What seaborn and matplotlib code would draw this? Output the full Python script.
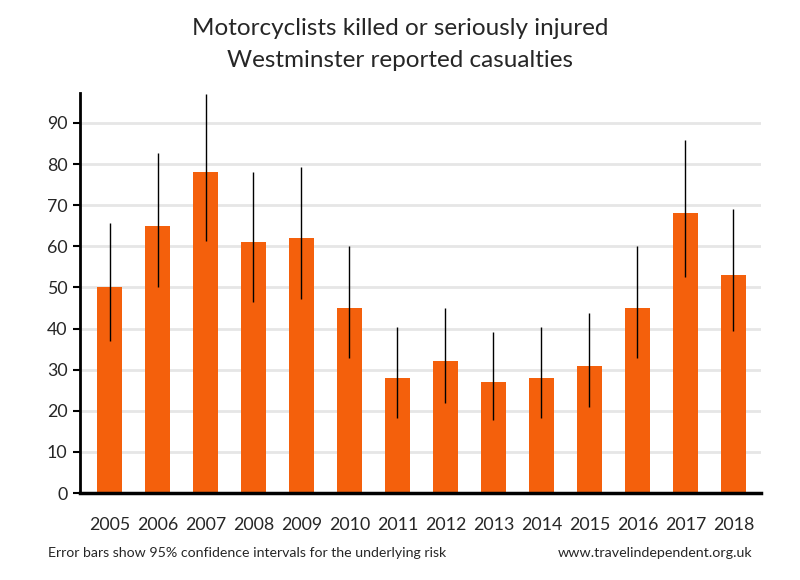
import pandas as pd
import matplotlib.pyplot as plt
import seaborn as sns

# Data
years = ['2005', '2006', '2007', '2008', '2009', '2010', '2011',
         '2012', '2013', '2014', '2015', '2016', '2017', '2018']
casualties = [50, 65, 78, 61, 62, 45, 28, 32, 27, 28, 31, 45, 68, 53]
ci_low = [37, 50, 61.3, 46.5, 47.2, 32.8, 18.3, 21.9, 17.8, 18.3, 20.9, 32.8, 52.5, 39.4]
ci_high = [65.7, 82.7, 97.1, 78.1, 79.3, 60.1, 40.4, 45, 39.2, 40.4, 43.8, 60.1, 85.9, 69.1]

df = pd.DataFrame({'year': years, 'ksi': casualties, 'lo': ci_low, 'hi': ci_high})

sns.set_style('white')
plt.rcParams['font.family'] = ['Lato', 'DejaVu Sans']

fig = plt.figure(figsize=(8, 5.8), dpi=100)
ax = fig.add_axes([0.1, 0.15, 0.851, 0.6897])

sns.barplot(data=df, x='year', y='ksi', color='#F4600C', saturation=1,
            width=0.52, linewidth=0, ax=ax, zorder=2)

# confidence interval lines
ax.vlines(range(len(df)), df['lo'], df['hi'], color='black', linewidth=1, zorder=3)

ax.set_ylim(0, 97.3)
ax.set_xlim(-0.615, 13.57)
ax.set_yticks(range(0, 100, 10))
ax.yaxis.grid(True, color='#E6E6E6', linewidth=2, zorder=0)
ax.set_axisbelow(True)

for s in ['top', 'right']:
    ax.spines[s].set_visible(False)
ax.spines['left'].set_color('black')
ax.spines['left'].set_linewidth(2)
ax.spines['bottom'].set_color('black')
ax.spines['bottom'].set_linewidth(2.5)

ax.tick_params(axis='y', left=True, length=5, width=1.5, color='black',
               labelsize=12.8, pad=4)
ax.tick_params(axis='x', bottom=False, labelsize=12.8, pad=14)
ax.set_xlabel('')
ax.set_ylabel('')

fig.text(0.5, 0.951, 'Motorcyclists killed or seriously injured',
         ha='center', va='center', fontsize=17.5)
fig.text(0.5, 0.896, 'Westminster reported casualties',
         ha='center', va='center', fontsize=17.5)

fig.text(0.06, 0.046, 'Error bars show 95% confidence intervals for the underlying risk',
         ha='left', va='center', fontsize=10.2)
fig.text(0.94, 0.046, 'www.travelindependent.org.uk',
         ha='right', va='center', fontsize=10.3)

plt.savefig('out.png', dpi=100)
